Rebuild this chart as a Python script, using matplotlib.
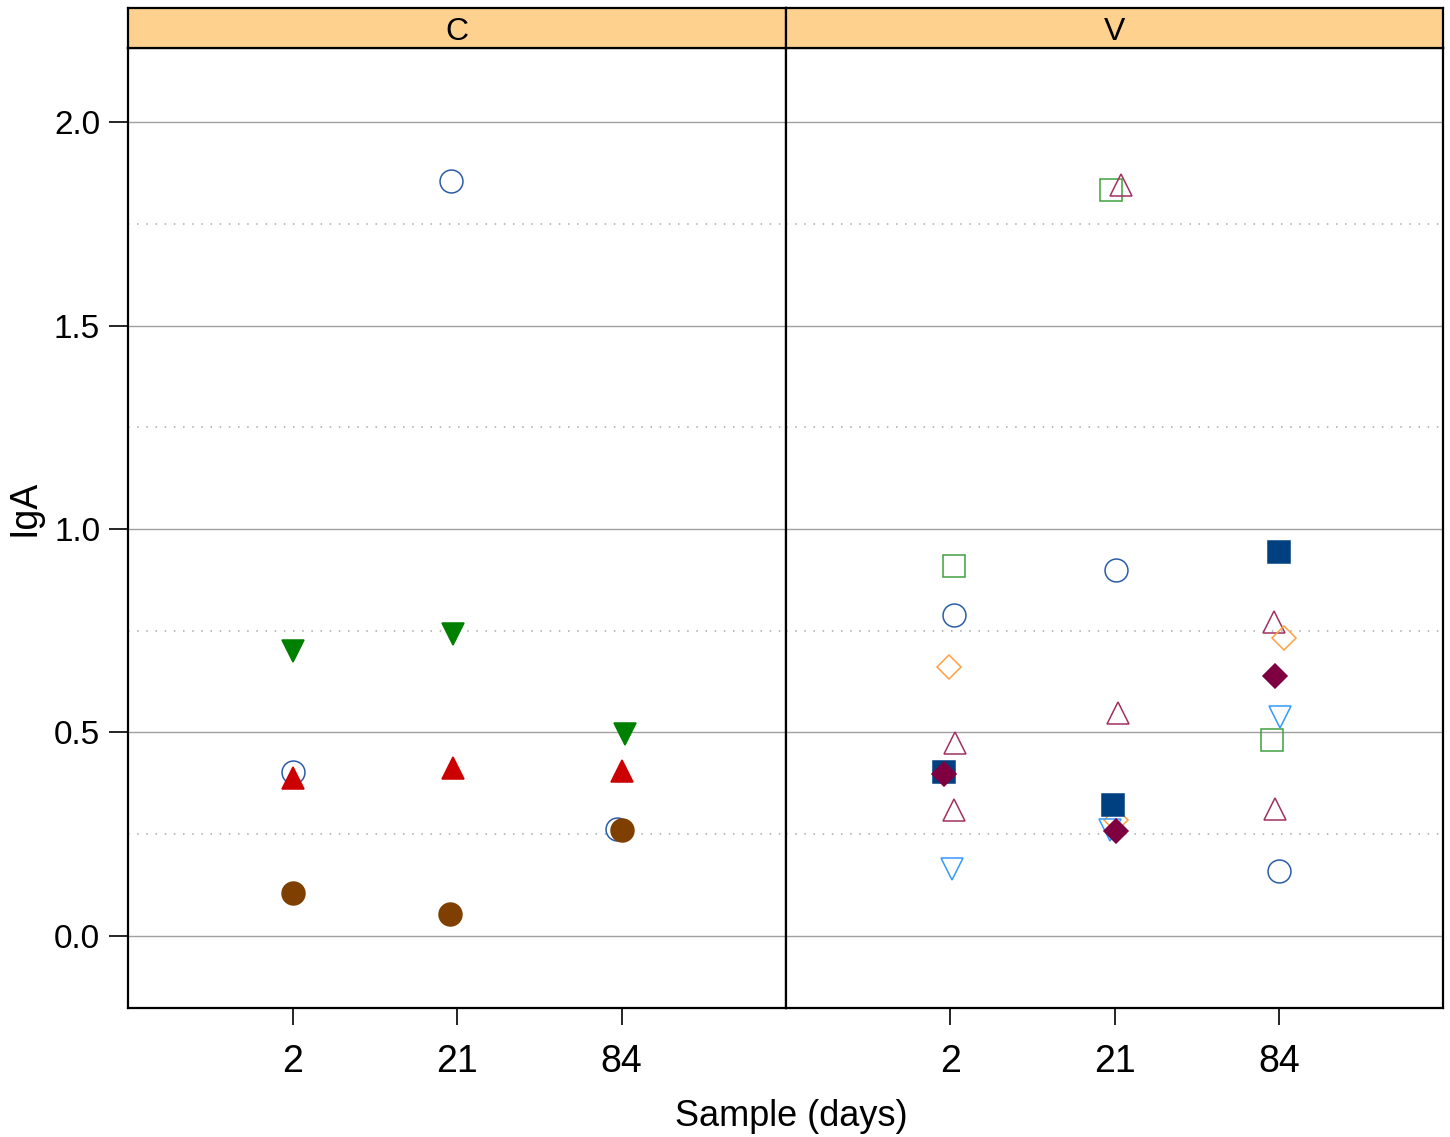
import numpy as np
import matplotlib
matplotlib.use("Agg")
import matplotlib.pyplot as plt

plt.rcParams['font.family'] = ['Liberation Sans', 'DejaVu Sans']

# Sample days (categorical x)
days = ["2", "21", "84"]
panels = ["C", "V"]

# --- panel C series (IgA values at day 2, 21, 84) ---
c_open_circle = [0.403, 1.855, 0.263]
c_red_tri = [0.388, 0.413, 0.405]
c_green_down = [0.700, 0.742, 0.496]
c_brown_dot = [0.106, 0.054, 0.260]

# --- panel V series ---
v_open_square = [0.909, 1.833, 0.482]
v_open_circle = [0.789, 0.899, 0.160]
v_open_diamond = [0.661, 0.285, 0.732]
v_open_tri_a = [0.474, 1.845, 0.771]
v_open_tri_b = [0.310, 0.548, 0.312]
v_filled_square = [0.403, 0.322, 0.943]
v_filled_diamond = [0.398, 0.258, 0.639]
v_open_down = [0.165, 0.260, 0.538]

# horizontal jitter (fraction of one category step)
c_jitter = {
    "open_circle": [0.00, -0.035, -0.03],
    "red_tri": [0.00, -0.025, 0.00],
    "green_down": [0.00, -0.025, 0.02],
    "brown_dot": [0.00, -0.04, 0.00],
}
v_jitter = {
    "open_square": [0.02, -0.02, -0.04],
    "open_circle": [0.02, 0.01, 0.00],
    "open_diamond": [-0.01, 0.01, 0.03],
    "open_tri_a": [0.03, 0.04, -0.03],
    "open_tri_b": [0.02, 0.02, -0.02],
    "filled_square": [-0.04, -0.01, 0.00],
    "filled_diamond": [-0.04, 0.01, -0.02],
    "open_down": [0.01, -0.03, 0.01],
}

# (values, jitter key, marker, colour, filled)
c_series = [
    (c_open_circle, "open_circle", "o", "#2a5caa", False),
    (c_green_down, "green_down", "v", "#008000", True),
    (c_red_tri, "red_tri", "^", "#cc0000", True),
    (c_brown_dot, "brown_dot", "o", "#7f3f00", True),
]
v_series = [
    (v_open_square, "open_square", "s", "#3fa03f", False),
    (v_open_tri_a, "open_tri_a", "^", "#a03060", False),
    (v_open_circle, "open_circle", "o", "#2a5caa", False),
    (v_open_diamond, "open_diamond", "D", "#ffa040", False),
    (v_open_tri_b, "open_tri_b", "^", "#a03060", False),
    (v_open_down, "open_down", "v", "#3399ff", False),
    (v_filled_square, "filled_square", "s", "#004080", True),
    (v_filled_diamond, "filled_diamond", "D", "#7f0040", True),
]

W, H = 1450, 1137
fig = plt.figure(figsize=(W / 100, H / 100), dpi=100)

left, right = 128 / W, 1443 / W
mid = 786 / W
bottom = 1 - 1008 / H
body_top = 1 - 48 / H
strip_top = 1 - 8 / H

ylim = (-0.177, 2.182)
xpos = np.arange(1, len(days) + 1)

axes = []
for i, (name, series, jit) in enumerate([("C", c_series, c_jitter), ("V", v_series, v_jitter)]):
    x0 = left if i == 0 else mid
    x1 = mid if i == 0 else right
    ax = fig.add_axes([x0, bottom, x1 - x0, body_top - bottom])
    axes.append(ax)

    # grid: solid at majors, dotted halfway
    for yv in np.arange(0, 2.01, 0.5):
        ax.axhline(yv, color="#a0a0a0", lw=1.0, zorder=0)
    for yv in np.arange(0.25, 2.0, 0.5):
        ax.axhline(yv, color="#a8a8a8", lw=1.1, ls=(0, (1, 5)), zorder=0)

    for vals, key, mk, col, filled in series:
        xs = xpos + np.array(jit[key])
        ms = 12.2 if mk == "D" else 16.5
        ax.plot(xs, vals, ls="none", marker=mk, ms=ms,
                mfc=col if filled else "none", mec=col, mew=1.1, zorder=3)

    ax.set_xlim(0, 4)
    ax.set_ylim(*ylim)
    ax.set_xticks(xpos)
    ax.set_xticklabels(days, fontsize=27)
    ax.tick_params(axis="x", direction="out", length=12, width=1.2, pad=14)
    if i == 0:
        ax.set_yticks(np.arange(0, 2.01, 0.5))
        ax.set_yticklabels([f"{v:.1f}" for v in np.arange(0, 2.01, 0.5)], fontsize=24)
        ax.tick_params(axis="y", direction="out", length=14, width=1.2, pad=6)
    else:
        ax.set_yticks([])
    for sp in ax.spines.values():
        sp.set_linewidth(1.6)

    # strip
    sax = fig.add_axes([x0, body_top, x1 - x0, strip_top - body_top])
    sax.set_facecolor("#ffd18f")
    sax.set_xticks([])
    sax.set_yticks([])
    for sp in sax.spines.values():
        sp.set_linewidth(1.6)
    sax.text(0.5, 0.4, name, ha="center", va="center", fontsize=23,
             transform=sax.transAxes)

fig.text(25 / W, 1 - 508 / H, "IgA", rotation=90, ha="center", va="center", fontsize=27)
fig.text(791 / W, 1 - 1116 / H, "Sample (days)", ha="center", va="center", fontsize=26)

fig.savefig("out.png", dpi=100)
